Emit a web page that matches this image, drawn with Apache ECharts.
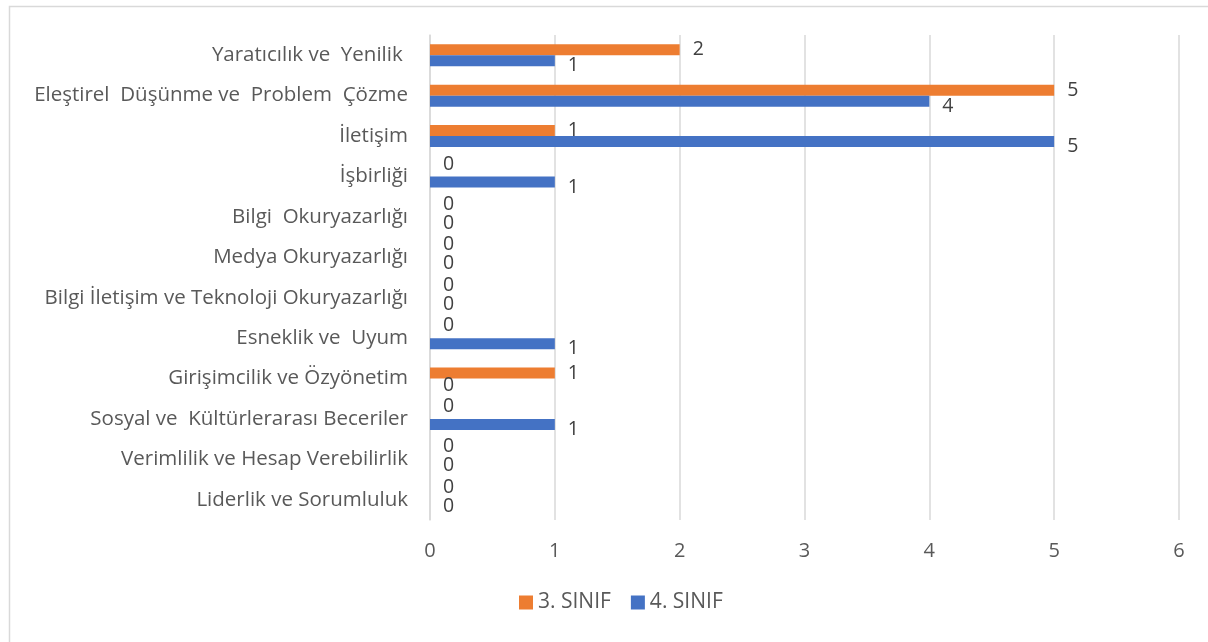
<!DOCTYPE html>
<html>
<head>
<meta charset="utf-8">
<script src="https://cdn.jsdelivr.net/npm/echarts@6/dist/echarts.min.js"></script>
<style>html,body{margin:0;padding:0;background:#fff}#c{width:1208px;height:642px}</style>
</head>
<body>
<div id="c"></div>
<script>
var categories = [
  'Yaratıcılık ve  Yenilik ',
  'Eleştirel  Düşünme ve  Problem  Çözme',
  'İletişim',
  'İşbirliği',
  'Bilgi  Okuryazarlığı',
  'Medya Okuryazarlığı',
  'Bilgi İletişim ve Teknoloji Okuryazarlığı',
  'Esneklik ve  Uyum',
  'Girişimcilik ve Özyönetim',
  'Sosyal ve  Kültürlerarası Beceriler',
  'Verimlilik ve Hesap Verebilirlik',
  'Liderlik ve Sorumluluk'
];
var sinif3 = [2, 5, 1, 0, 0, 0, 0, 0, 1, 0, 0, 0];
var sinif4 = [1, 4, 5, 1, 0, 0, 0, 1, 0, 1, 0, 0];
var xTicks = [0, 1, 2, 3, 4, 5, 6];

var FONT = 'Open Sans';
var chart = echarts.init(document.getElementById('c'));

function items(arr, zeroOff, off) {
  return arr.map(function (v) {
    return { value: v, label: { offset: v === 0 ? zeroOff : off } };
  });
}

chart.setOption({
  animation: false,
  graphic: [{
    type: 'rect', silent: true,
    shape: { x: 9.5, y: 6.5, width: 1300, height: 700 },
    style: { fill: 'none', stroke: '#d9d9d9', lineWidth: 1.5 }
  }],
  grid: { left: 430, right: 29, top: 35, bottom: 122, containLabel: false },
  legend: {
    bottom: 24, left: 514,
    itemWidth: 14, itemHeight: 14, itemGap: 20,
    icon: 'rect',
    textStyle: { color: '#595959', fontSize: 21, fontFamily: FONT },
    data: ['3. SINIF', '4. SINIF']
  },
  xAxis: {
    type: 'value', min: 0, max: 6, interval: 1,
    axisLine: { show: false }, axisTick: { show: false },
    splitLine: { lineStyle: { color: '#d9d9d9', width: 1.5 } },
    axisLabel: { color: '#595959', fontSize: 20, fontFamily: FONT, margin: 21,
      formatter: function (v) { return xTicks.indexOf(v) >= 0 ? String(v) : ''; } }
  },
  yAxis: {
    type: 'category', inverse: true, data: categories,
    axisLine: { show: true, lineStyle: { color: '#d9d9d9', width: 1.5 } },
    axisTick: { show: false },
    axisLabel: { color: '#595959', fontSize: 20.5, fontFamily: FONT, margin: 22 }
  },
  series: [
    {
      name: '3. SINIF', type: 'bar', data: items(sinif3, [0, -7], [0, 0]),
      itemStyle: { color: '#ed7d31' }, barWidth: 11, barGap: '0%',
      label: { show: true, position: 'right', distance: 13, color: '#404040', fontSize: 19.5, fontFamily: FONT }
    },
    {
      name: '4. SINIF', type: 'bar', data: items(sinif4, [0, 1], [0, 5]),
      itemStyle: { color: '#4472c4' }, barWidth: 11, barGap: '0%',
      label: { show: true, position: 'right', distance: 13, color: '#404040', fontSize: 19.5, fontFamily: FONT }
    }
  ]
});
</script>
</body>
</html>
